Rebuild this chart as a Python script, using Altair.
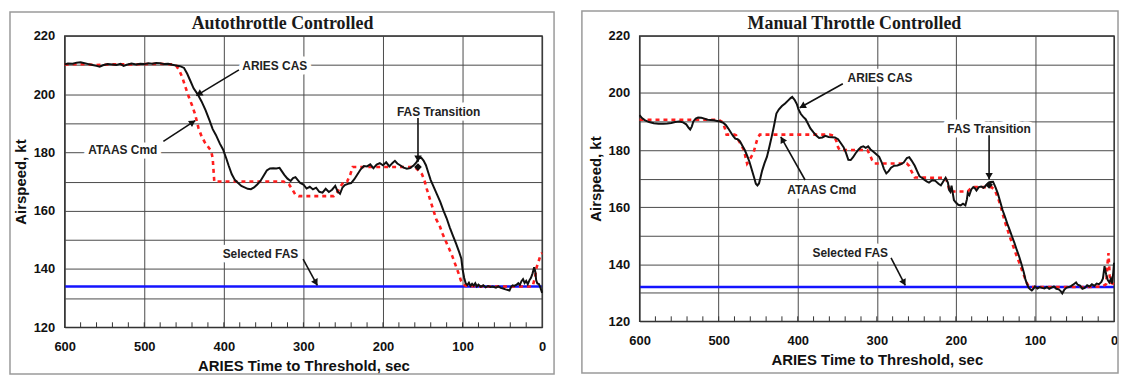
import math
import altair as alt
import pandas as pd

# ---------------- data ----------------
# Left panel: Autothrottle Controlled
left_cas_t = [600, 596, 590, 585, 580, 575, 570, 565, 560, 556, 552, 546, 540, 535, 530, 526, 522, 516, 510, 505,
              500, 495, 490, 485, 480, 475, 470, 465, 460, 455, 450, 446, 442, 438, 433, 428, 423, 418, 414, 410,
              405, 401, 397, 394, 390, 386, 382, 378, 374, 370, 366, 362, 358, 354, 350, 346, 342, 338, 334, 330,
              327, 324, 320, 316, 313, 310, 307, 304, 300, 296, 292, 288, 284, 280, 276, 272, 268, 264, 260, 257,
              254, 251, 248, 244, 240, 236, 232, 228, 224, 220, 216, 212, 208, 204, 200, 196, 192, 188, 185, 182,
              178, 174, 170, 166, 162, 158, 155, 152, 149, 146, 143, 140, 136, 132, 128, 124, 120, 116, 112, 108,
              104, 101.5, 100, 98, 96, 94, 92, 90, 88, 86, 84, 82, 80, 77, 74, 71, 68, 65, 62, 58,
              55, 52, 49, 46, 43, 41, 39, 37, 35, 32, 30, 28, 26, 24, 22, 20, 18, 16, 14, 12,
              10, 8.5, 7.5, 6, 4, 2, 0]
left_cas_v = [210.2, 210.5, 210.4, 210.8, 210.9, 210.6, 210.3, 210.0, 209.7, 209.4, 209.9, 210.3, 210.2, 210.0, 210.4, 209.7, 210.1, 210.5, 210.2, 210.4,
              210.3, 210.6, 210.4, 210.7, 210.6, 210.3, 210.4, 210.1, 209.8, 209.6, 209.0, 207.0, 204.5, 202.0, 200.0, 197.5, 194.5, 191.0, 188.0, 186.0,
              183.0, 181.0, 178.0, 175.5, 172.5, 170.5, 169.5, 168.5, 168.0, 167.5, 167.4, 168.0, 169.0, 170.2, 172.0, 173.8, 174.5, 174.6, 174.5, 174.7,
              173.5, 172.3, 171.0, 170.2, 171.2, 171.5, 170.5, 169.5, 169.0, 167.6, 168.2, 167.3, 167.9, 166.5, 166.2, 167.5, 166.4, 167.2, 168.5, 166.6,
              165.8, 167.9, 168.8, 169.2, 169.5, 170.8, 172.5, 174.2, 175.3, 175.2, 175.9, 174.6, 175.8, 176.3, 175.6, 176.6, 175.2, 176.4, 177.1, 176.2,
              175.5, 174.8, 174.4, 174.6, 175.4, 176.6, 178.0, 178.2, 177.2, 175.6, 173.0, 170.5, 168.0, 165.5, 163.0, 160.0, 157.4, 154.2, 151.4, 148.6,
              145.6, 143.5, 140.0, 137.0, 135.0, 134.5, 135.3, 134.2, 134.9, 134.3, 135.1, 134.0, 134.6, 133.9, 134.4, 133.7, 134.1, 133.8, 134.0, 133.6,
              134.0, 133.5, 133.3, 133.0, 132.8, 132.6, 133.9, 134.4, 134.2, 134.6, 135.1, 134.5, 135.8, 136.5, 135.2, 135.9, 134.8, 136.1, 137.0, 138.5,
              140.6, 139.0, 136.2, 135.0, 134.8, 133.5, 131.8]

left_cmd_t = [600, 580, 560, 540, 520, 500, 480, 465, 460, 456, 452, 448, 444, 440, 436, 432, 428, 424, 420, 416,
              414, 413, 412, 400, 380, 360, 340, 325, 318, 314, 310, 306, 300, 280, 262, 257, 253, 249, 245, 241,
              238, 220, 200, 180, 165, 160, 157, 154, 151, 148, 145, 141, 137, 133, 129, 125, 121, 117, 113, 109,
              105, 102, 100, 96, 80, 60, 40, 20, 12, 9, 7, 4, 1.5, 0]
left_cmd_v = [210.2, 210.3, 210.0, 210.2, 210.2, 210.3, 210.4, 210.2, 209.8, 208.2, 205.6, 202.2, 199.0, 196.2, 193.0, 188.5, 185.5, 183.5, 182.0, 180.5,
              178.0, 174.0, 170.0, 170.0, 170.0, 170.0, 170.0, 170.0, 169.0, 167.3, 165.5, 165.0, 165.0, 165.0, 165.0, 166.5, 168.5, 170.0, 170.0, 172.5,
              175.0, 175.0, 175.0, 175.0, 175.0, 175.0, 174.2, 173.5, 172.5, 170.5, 167.5, 164.0, 160.5, 157.0, 155.0, 152.0, 149.5, 147.0, 144.5, 141.5,
              138.5, 136.0, 135.0, 134.2, 134.0, 134.0, 134.0, 134.0, 134.0, 137.0, 140.5, 143.0, 145.2, 145.5]

left_fas = 134

# Right panel: Manual Throttle Controlled
right_cas_t = [600, 597, 593, 588, 582, 576, 570, 565, 560, 555, 550, 545, 541, 538, 536, 534, 532, 529, 526, 522,
               518, 514, 510, 506, 502, 498, 494, 491, 488, 485, 482, 479, 476, 473, 470, 467, 464, 461, 458, 455,
               453, 451, 449, 447, 445, 442, 439, 436, 433, 430, 427, 424, 420, 416, 412, 409, 407, 404, 401, 399,
               396, 393, 390, 387, 384, 380, 377, 373, 369, 365, 361, 357, 353, 349, 345, 342, 339, 336, 333, 330,
               327, 323, 320, 317, 314, 311, 308, 305, 301, 297, 294, 291, 288, 285, 282, 278, 274, 270, 266, 262,
               259, 256, 252, 249, 246, 243, 240, 237, 234, 230, 226, 222, 219, 216, 213, 210, 208.5, 207, 205.5, 204,
               202.5, 200, 197, 194, 191, 188, 186, 185, 183, 180.5, 178, 176, 174, 171, 168, 165, 162, 159, 156, 153,
               150, 147, 144, 141, 138, 135, 132, 129, 126, 123, 120, 117, 114, 112, 110, 108, 106, 104, 102, 100,
               97, 94, 91, 88, 85, 82, 79, 76, 73, 70, 67.5, 65.5, 63, 60, 57, 54, 51, 48, 46, 43,
               40, 37, 34, 31, 28, 25, 22, 19, 16, 14, 12, 10, 8, 6, 4, 2.5, 1, 0]
right_cas_v = [192.2, 191.2, 190.4, 189.8, 189.4, 189.2, 189.2, 189.3, 189.5, 189.8, 190.0, 189.7, 189.0, 187.8, 187.2, 188.2, 190.0, 191.0, 191.4, 191.3,
               191.0, 190.6, 190.5, 190.4, 190.2, 190.0, 189.5, 188.8, 187.6, 186.3, 185.0, 184.0, 183.8, 183.0, 181.5, 180.0, 178.0, 175.8, 173.0, 170.2,
               168.2, 167.6, 168.3, 170.5, 172.8, 175.4, 177.6, 181.0, 184.6, 188.5, 192.8, 194.2, 195.4, 196.3, 197.4, 198.2, 198.6, 197.6, 196.0, 194.2,
               192.6, 191.6, 190.8, 189.2, 187.6, 186.2, 185.2, 184.2, 184.4, 185.0, 184.6, 184.5, 184.4, 183.8, 182.2, 181.0, 179.0, 176.6, 176.5, 177.5,
               178.8, 180.2, 181.0, 181.3, 180.8, 181.3, 180.2, 179.6, 178.6, 177.6, 175.8, 173.4, 171.8, 172.6, 173.8, 174.5, 174.6, 175.0, 175.6, 177.2,
               177.5, 176.3, 174.5, 172.6, 170.8, 170.3, 169.6, 169.0, 168.6, 169.4, 169.2, 168.2, 167.6, 169.0, 170.3, 168.5, 166.0, 165.4, 167.5, 165.0,
               162.5, 161.6, 160.8, 160.6, 161.2, 160.6, 162.8, 165.0, 164.2, 166.2, 167.0, 166.6, 165.8, 167.0, 167.2, 166.8, 167.6, 168.4, 168.8, 168.9,
               167.0, 164.8, 162.0, 159.0, 156.7, 154.2, 152.0, 149.7, 147.5, 145.0, 142.7, 140.0, 137.0, 134.6, 133.0, 131.8, 131.2, 130.8, 131.4, 132.2,
               131.5, 132.0, 131.7, 131.5, 132.0, 131.4, 131.8, 132.2, 131.4, 131.2, 130.6, 129.8, 131.0, 131.8, 132.0, 132.4, 133.0, 133.6, 132.8, 132.5,
               131.4, 131.7, 132.6, 132.2, 133.0, 132.4, 133.2, 133.0, 133.8, 135.0, 139.3, 136.5, 134.5, 133.6, 134.8, 133.2, 137.0, 140.5]

right_cmd_t = [600, 560, 520, 500, 495, 492, 490, 480, 478, 475, 471, 468, 466, 464, 462, 459, 456, 453, 451, 448,
               440, 420, 400, 380, 360, 354, 351, 349, 347, 330, 312, 309, 306, 303, 290, 275, 262, 259, 257, 254,
               252, 230, 213, 210, 208, 195, 185, 182, 178, 165, 160, 155, 152, 149, 146, 143, 140, 137, 134, 131,
               128, 125, 122, 119, 116, 113, 110, 108, 104, 90, 70, 50, 30, 15, 10, 8, 7, 5.5, 4, 0]
right_cmd_v = [190.6, 190.6, 190.6, 190.6, 189.8, 187.5, 185.4, 185.4, 185.2, 183.5, 181.5, 180.0, 177.5, 175.2, 176.0, 177.5, 179.0, 182.0, 184.0, 185.4,
               185.4, 185.4, 185.4, 185.4, 185.4, 185.0, 183.0, 181.0, 180.0, 180.0, 180.0, 178.5, 176.5, 175.3, 175.3, 175.3, 175.3, 174.4, 173.0, 171.4,
               170.4, 170.3, 170.3, 168.0, 165.5, 165.5, 165.5, 166.3, 167.0, 167.0, 167.0, 167.0, 166.3, 164.8, 162.6, 160.0, 156.8, 154.0, 151.5, 149.0,
               146.7, 144.3, 142.0, 140.0, 137.6, 135.4, 133.3, 132.3, 132.0, 132.0, 132.0, 132.0, 132.0, 132.2, 133.0, 141.0, 143.9, 136.0, 133.5, 133.0]

right_fas = 132

# x axis labels / grid / minor ticks
x_major = [0, 100, 200, 300, 400, 500, 600]
x_minor = list(range(20, 600, 20))
y_grid = list(range(120, 221, 10))

# Annotations: label text and its position (data units)
left_labels = ["ARIES CAS", "ATAAS Cmd", "FAS Transition", "Selected FAS"]
left_label_t = [336, 527, 130, 354]
left_label_v = [209.8, 180.7, 193.7, 145.0]
left_arrow_t1 = [381, 476, 156, 300.4]
left_arrow_v1 = [208.3, 183.8, 191.8, 143.4]
left_arrow_t2 = [434.5, 436, 156, 282.5]
left_arrow_v2 = [199.5, 190.9, 176.8, 134.4]
left_dot_t = [156]
left_dot_v = [175.0]

right_labels = ["ARIES CAS", "ATAAS Cmd", "FAS Transition", "Selected FAS"]
right_label_t = [296, 369.6, 158, 333.6]
right_label_v = [205.1, 166.0, 187.5, 144.0]
right_arrow_t1 = [343, 390.7, 158, 282]
right_arrow_v1 = [203.2, 169.5, 185.2, 142.2]
right_arrow_t2 = [397.5, 421.4, 158, 264]
right_arrow_v2 = [194.8, 184.6, 169.8, 132.6]
right_dot_t = [158]
right_dot_v = [167.8]

SANS = "Liberation Sans"
SERIF = "Liberation Serif"
GRID = "#4a4a4a"


def panel(title, cas_t, cas_v, cmd_t, cmd_v, fas, labels, lt, lv, at1, av1, at2, av2, dt, dv,
          W, H, frame, title_x):
    xscale = alt.Scale(domain=[0, 600], reverse=True, nice=False, zero=False)
    yscale = alt.Scale(domain=[120, 220], nice=False, zero=False)
    xaxis = alt.Axis(values=x_major, title="ARIES Time to Threshold, sec", grid=True,
                     gridColor=GRID, gridWidth=1, gridOpacity=1, domain=False, ticks=False,
                     labelFont=SANS, labelFontSize=13, labelFontWeight="bold", labelColor="#111",
                     labelPadding=13, titleFont=SANS, titleFontSize=15, titleFontWeight="bold",
                     titleColor="#111", titlePadding=5, labelFlush=False)
    yaxis = alt.Axis(values=y_grid, title="Airspeed, kt", grid=True,
                     gridColor=GRID, gridWidth=1, gridOpacity=1, domain=False, ticks=False,
                     labelExpr="datum.value % 20 == 0 ? datum.label : ''",
                     labelFont=SANS, labelFontSize=13, labelFontWeight="bold", labelColor="#111",
                     labelPadding=10, titleFont=SANS, titleFontSize=15, titleFontWeight="bold",
                     titleColor="#111", titlePadding=5, labelFlush=False)
    xa = alt.X("t:Q", scale=xscale, axis=xaxis, title="ARIES Time to Threshold, sec")
    ya = alt.Y("v:Q", scale=yscale, axis=yaxis, title="Airspeed, kt")

    cas = pd.DataFrame({"t": cas_t, "v": cas_v})
    cmd = pd.DataFrame({"t": cmd_t, "v": cmd_v})
    fasdf = pd.DataFrame({"t": [600, 0], "v": [fas, fas]})

    blue = alt.Chart(fasdf).mark_line(color="#1414ff", strokeWidth=2.6).encode(x=xa, y=ya)

    fx1, fx2, fy1, fy2 = frame
    one = pd.DataFrame({"k": [0]})
    frame_layer = alt.Chart(one).mark_rect(
        fill=None, fillOpacity=0, stroke="#9a9a9a", strokeWidth=1.5, clip=False
    ).encode(x=alt.value(fx1), x2=alt.value(fx2), y=alt.value(fy1), y2=alt.value(fy2))
    border = alt.Chart(one).mark_rect(
        fill=None, fillOpacity=0, stroke="#333333", strokeWidth=1.3, clip=False
    ).encode(x=alt.value(0), x2=alt.value(W), y=alt.value(0), y2=alt.value(H))

    minor = alt.Chart(pd.DataFrame({"t": x_minor, "v": [120] * len(x_minor)})).mark_rule(
        color="#333", strokeWidth=1).encode(x=xa, y=alt.value(H - 5), y2=alt.value(H))

    red = alt.Chart(cmd).mark_line(color="#ff1e1e", strokeWidth=2.6, strokeDash=[4, 4]).encode(x=xa, y=ya)
    black = alt.Chart(cas).mark_line(color="#111111", strokeWidth=2).encode(x=xa, y=ya)

    lab = pd.DataFrame({"t": lt, "v": lv, "txt": labels})
    halo = alt.Chart(lab).mark_text(font=SANS, fontSize=12, fontWeight="bold", stroke="white",
                                    strokeWidth=9, strokeJoin="round", fill="white").encode(
        x=xa, y=ya, text="txt:N")
    txt = alt.Chart(lab).mark_text(font=SANS, fontSize=12, fontWeight="bold", color="#222").encode(
        x=xa, y=ya, text="txt:N")

    # arrows: shafts as two-point lines, heads as rotated triangles
    shaft_rows = []
    head_rows = []
    for i, (a1, b1, a2, b2) in enumerate(zip(at1, av1, at2, av2)):
        pdx = -(a2 - a1) * W / 600.0
        pdy = -(b2 - b1) * H / 100.0
        L = math.hypot(pdx, pdy)
        ux, uy = pdx / L, pdy / L
        ang = math.degrees(math.atan2(ux, -uy)) % 360
        back = 3.0
        ct = a2 + back * ux * 600.0 / W
        cv = b2 + back * uy * 100.0 / H
        shaft_rows.append({"id": i, "o": 0, "t": a1, "v": b1})
        shaft_rows.append({"id": i, "o": 1, "t": a2, "v": b2})
        head_rows.append({"t": ct, "v": cv, "ang": ang})
    shafts = alt.Chart(pd.DataFrame(shaft_rows)).mark_line(color="#111", strokeWidth=1.6).encode(
        x=xa, y=ya, detail="id:N", order="o:Q")
    heads = alt.Chart(pd.DataFrame(head_rows)).mark_point(
        shape="triangle-up", filled=True, color="#111", size=55, opacity=1).encode(
        x=xa, y=ya, angle=alt.Angle("ang:Q", scale=None))
    dots = alt.Chart(pd.DataFrame({"t": dt, "v": dv})).mark_point(
        shape="diamond", filled=True, color="#111", size=60, opacity=1).encode(x=xa, y=ya)

    ttl = alt.Chart(pd.DataFrame({"txt": [title]})).mark_text(
        font=SERIF, fontSize=18, fontWeight="bold", color="#1a1a1a", baseline="alphabetic",
        align="center").encode(x=alt.value(title_x), y=alt.value(-7), text="txt:N")

    return alt.layer(blue, frame_layer, border, minor, red, black, halo, txt, shafts, heads, dots,
                     ttl).properties(width=W, height=H)


left = panel("Autothrottle Controlled", left_cas_t, left_cas_v, left_cmd_t, left_cmd_v, left_fas,
             left_labels, left_label_t, left_label_v, left_arrow_t1, left_arrow_v1,
             left_arrow_t2, left_arrow_v2, left_dot_t, left_dot_v,
             480, 293, (-55, 492, -24, 340), 219)
right = panel("Manual Throttle Controlled", right_cas_t, right_cas_v, right_cmd_t, right_cmd_v, right_fas,
              right_labels, right_label_t, right_label_v, right_arrow_t1, right_arrow_v1,
              right_arrow_t2, right_arrow_v2, right_dot_t, right_dot_v,
              477, 287, (-58, 481, -25, 339), 216)

chart = alt.hconcat(left, right, spacing=24).properties(
    padding={"left": 0, "top": 0, "right": 0, "bottom": 0}
).configure_view(stroke=None).configure(background="white")

chart.save("out.html", embed_options={"renderer": "svg", "actions": False})
